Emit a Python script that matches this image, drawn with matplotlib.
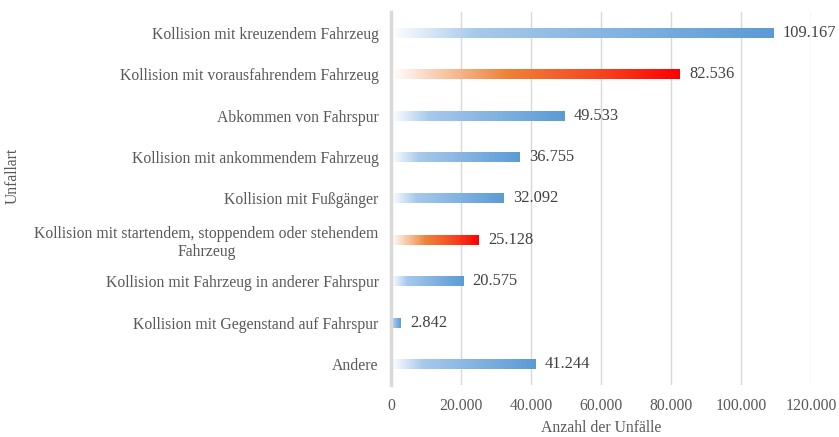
import numpy as np
import matplotlib
matplotlib.use("Agg")
import matplotlib.pyplot as plt
from matplotlib.colors import LinearSegmentedColormap

categories = [
    "Kollision mit kreuzendem Fahrzeug",
    "Kollision mit vorausfahrendem Fahrzeug",
    "Abkommen von Fahrspur",
    "Kollision mit ankommendem Fahrzeug",
    "Kollision mit Fußgänger",
    "Kollision mit startendem, stoppendem oder stehendem\nFahrzeug",
    "Kollision mit Fahrzeug in anderer Fahrspur",
    "Kollision mit Gegenstand auf Fahrspur",
    "Andere",
]
values = [109167, 82536, 49533, 36755, 32092, 25128, 20575, 2842, 41244]
highlight = [False, True, False, False, False, True, False, False, False]
value_labels = ["109.167", "82.536", "49.533", "36.755", "32.092", "25.128", "20.575", "2.842", "41.244"]
xticks = [0, 20000, 40000, 60000, 80000, 100000, 120000]
xtick_labels = ["0", "20.000", "40.000", "60.000", "80.000", "100.000", "120.000"]

plt.rcParams["font.family"] = ["Liberation Serif", "DejaVu Serif"]
txt = "#595959"

blue_cmap = LinearSegmentedColormap.from_list(
    "blue", [(0.0, "#FFFFFF"), (0.22, "#A7C9EB"), (1.0, "#5B9BD5")])
red_cmap = LinearSegmentedColormap.from_list(
    "red", [(0.0, "#FFFFFF"), (0.4, "#EE8238"), (0.7, "#F64A22"), (1.0, "#FF0000")])

fig = plt.figure(figsize=(8.39, 4.37), dpi=100)
ax = fig.add_axes([391/839, 1-385/437, 420/839, 373/437])

grad = np.linspace(0, 1, 256).reshape(1, -1)
h = 0.24
for i, (v, hl) in enumerate(zip(values, highlight)):
    cmap = red_cmap if hl else blue_cmap
    ax.imshow(grad, cmap=cmap, extent=[0, v, i + h/2, i - h/2],
              aspect="auto", interpolation="bilinear", zorder=3)
    ax.text(v + 2700, i, value_labels[i], va="center", ha="left",
            fontsize=11.8, color="#404040", zorder=4)

ax.set_xlim(0, 120000)
ax.set_ylim(len(categories) - 0.5, -0.5)
ax.set_yticks(range(len(categories)))
ax.set_yticklabels(categories, fontsize=11.3, color=txt, multialignment="center")
ax.set_xticks(xticks)
ax.set_xticklabels(xtick_labels, fontsize=11.3, color=txt)
ax.tick_params(axis="both", length=0)
ax.tick_params(axis="x", pad=9)
ax.tick_params(axis="y", pad=9)
ax.grid(axis="x", color="#D9D9D9", linewidth=1, zorder=0)
ax.set_axisbelow(True)
for s in ["top", "right", "bottom"]:
    ax.spines[s].set_visible(False)
ax.spines["left"].set_color("#D9D9D9")
ax.spines["left"].set_linewidth(2.5)
ax.spines["left"].set_zorder(5)

ax.set_xlabel("Anzahl der Unfälle", fontsize=11.3, color=txt, labelpad=5)
fig.text(13/839, 1-176/437, "Unfallart", rotation=90, fontsize=11.3,
         color=txt, ha="center", va="center")

fig.savefig("out.png", dpi=100)
